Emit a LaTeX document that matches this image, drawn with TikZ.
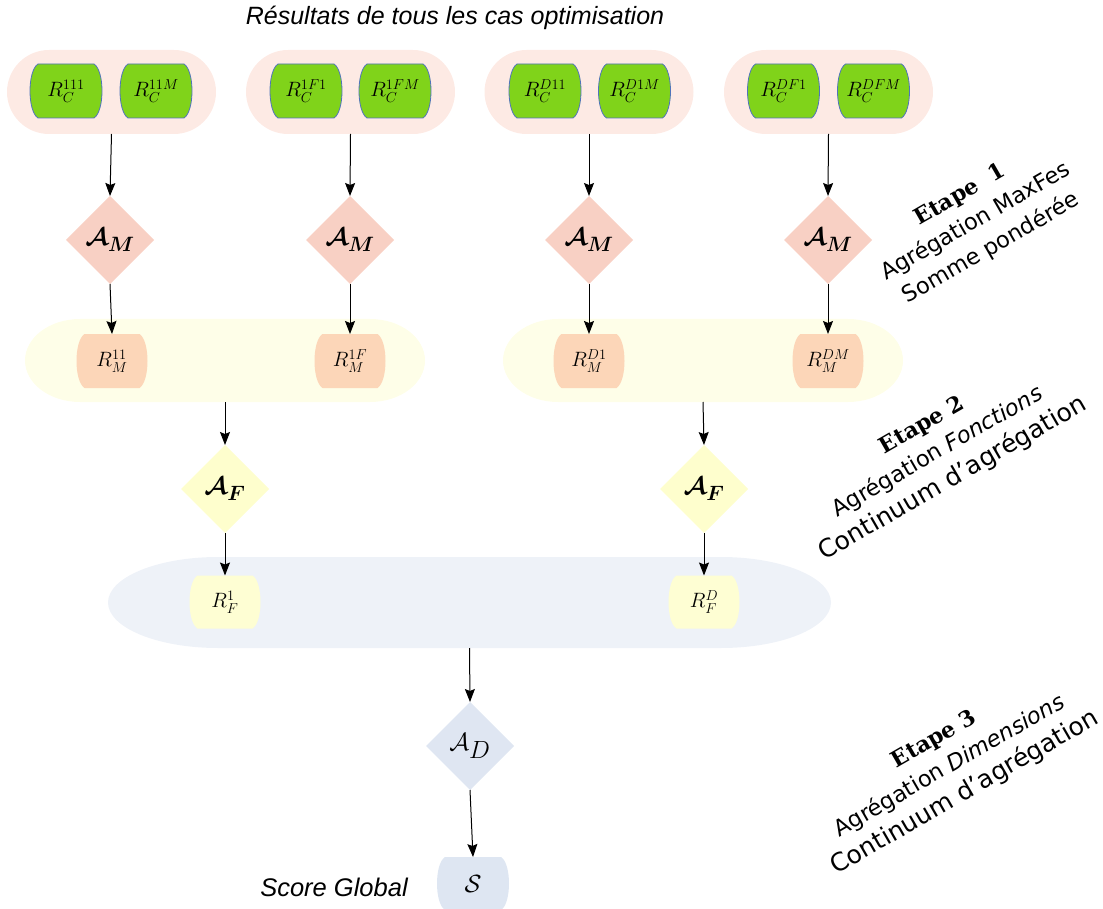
\documentclass[tikz,border=0pt]{standalone}
\usepackage{amsmath}
\usepackage{fontspec}
\setsansfont{Liberation Sans}
\newfontfamily\dejavu{DejaVu Sans}
\newfontfamily\etapefam{DejaVu Serif}
\usetikzlibrary{shapes.geometric,arrows.meta,calc}
\definecolor{pinkpill}{HTML}{FDEAE4}
\definecolor{greenbox}{HTML}{80D31A}
\definecolor{greenline}{HTML}{5074BB}
\definecolor{pinkdia}{HTML}{F8D0C4}
\definecolor{peachbox}{HTML}{FCD6B8}
\definecolor{yellowpill}{HTML}{FEFEE8}
\definecolor{yellowdia}{HTML}{FEFECD}
\definecolor{yellowbox}{HTML}{FEFED3}
\definecolor{bluepill}{HTML}{EEF2F8}
\definecolor{bluedia}{HTML}{DFE6F2}
\definecolor{bluebox}{HTML}{DEE6F2}
\pgfdeclarelayer{back}
\pgfdeclarelayer{mid}
\pgfsetlayers{back,mid,main}
\newcommand{\etapefont}{\etapefam\bfseries\fontsize{22}{30}\selectfont}
% style, node, rx, halfw, halfh
\newcommand{\stadium}[5]{\path[#1,shift={(#2.center)}] ({-#4+#3},-#5) -- ({#4-#3},-#5) arc[start angle=90,end angle=-90,x radius=#3pt,y radius=#5pt] -- ({-#4+#3},#5) arc[start angle=-90,end angle=-270,x radius=#3pt,y radius=#5pt] -- cycle;}
% style, node, halfw, halfh, inset
\newcommand{\barrel}[5]{\path[#1,shift={(#2.center)}] ({-#3+#5},-#4) -- ({#3-#5},-#4) .. controls ({#3+#5/3},{-0.75*#4}) and ({#3+#5/3},{0.75*#4}) .. ({#3-#5},#4) -- ({-#3+#5},#4) .. controls ({-#3-#5/3},{0.75*#4}) and ({-#3-#5/3},{-0.75*#4}) .. ({-#3+#5},-#4) -- cycle;}
\begin{document}
\begin{tikzpicture}[x=1pt,y=-1pt,
  holder/.style={draw=none,inner sep=0pt,outer sep=0pt},
  boxnode/.style={inner sep=0pt,outer sep=0pt,minimum width=71,minimum height=53,font=\fontsize{22}{26}\selectfont},
  dia/.style={shape=diamond,inner sep=0pt,outer sep=0pt,minimum width=88,minimum height=88,font=\fontsize{31}{36}\selectfont},
  arr/.style={draw=black,line width=1pt,-{Stealth[length=13pt,width=10pt,inset=2pt]}},
  steplabel/.style={align=center,font=\dejavu\fontsize{22.5}{31}\selectfont,inner sep=0pt}
]
\useasboundingbox (0,0) rectangle (1103,909);
% holders
\node[holder,minimum width=209,minimum height=84] (p1) at (111.5,92) {};
\node[holder,minimum width=209,minimum height=84] (p2) at (350.5,92) {};
\node[holder,minimum width=209,minimum height=84] (p3) at (589,92) {};
\node[holder,minimum width=209,minimum height=84] (p4) at (828.5,92) {};
\node[holder,minimum width=400,minimum height=83] (y1) at (225,360.5) {};
\node[holder,minimum width=400,minimum height=83] (y2) at (703,360.5) {};
\node[holder,minimum width=723,minimum height=91] (bl) at (469.5,602.5) {};
\begin{pgfonlayer}{back}
\stadium{fill=pinkpill}{p1}{42}{104.5}{42}
\stadium{fill=pinkpill}{p2}{42}{104.5}{42}
\stadium{fill=pinkpill}{p3}{42}{104.5}{42}
\stadium{fill=pinkpill}{p4}{42}{104.5}{42}
\stadium{fill=yellowpill}{y1}{55}{200}{41.5}
\stadium{fill=yellowpill}{y2}{55}{200}{41.5}
\stadium{fill=bluepill}{bl}{110}{361.5}{45.5}
\end{pgfonlayer}
% top boxes
\node[boxnode,minimum height=54] (c1) at (66,91) {$R_C^{111}$};
\node[boxnode,minimum height=54] (c2) at (156,91) {$R_C^{11M}$};
\node[boxnode,minimum height=54] (c3) at (306,91) {$R_C^{1F1}$};
\node[boxnode,minimum height=54] (c4) at (395,91) {$R_C^{1FM}$};
\node[boxnode,minimum height=54] (c5) at (545,91) {$R_C^{D11}$};
\node[boxnode,minimum height=54] (c6) at (634.5,91) {$R_C^{D1M}$};
\node[boxnode,minimum height=54] (c7) at (783.5,91) {$R_C^{DF1}$};
\node[boxnode,minimum height=54] (c8) at (873.5,91) {$R_C^{DFM}$};
% second row boxes
\node[boxnode,minimum height=54] (m1) at (112,361) {$R_M^{11}$};
\node[boxnode,minimum height=54] (m2) at (350,361) {$R_M^{1F}$};
\node[boxnode,minimum height=54] (m3) at (589,361) {$R_M^{D1}$};
\node[boxnode,minimum height=54] (m4) at (828,361) {$R_M^{DM}$};
% third row
\node[boxnode,font=\fontsize{20}{24}\selectfont] (f1) at (225,602) {$R_F^{1}$};
\node[boxnode,font=\fontsize{20}{24}\selectfont] (f2) at (704,602) {$R_F^{D}$};
% score
\node[boxnode,font=\fontsize{25}{29}\selectfont] (s) at (473,883.5) {$\mathcal{S}$};
\begin{pgfonlayer}{mid}
\foreach \n in {c1,c2,c3,c4,c5,c6,c7,c8}{\barrel{fill=greenbox,draw=greenline,line width=0.8pt}{\n}{36}{27}{8}}
\foreach \n in {m1,m2,m3,m4}{\barrel{fill=peachbox}{\n}{35.5}{27}{8}}
\foreach \n in {f1,f2}{\barrel{fill=yellowbox}{\n}{35.5}{26.5}{8}}
\barrel{fill=bluebox}{s}{36}{26.5}{8}
\end{pgfonlayer}
% diamonds
\node[dia,fill=pinkdia] (am1) at (110,240) {$\boldsymbol{\mathcal{A}_M}$};
\node[dia,fill=pinkdia] (am2) at (350,240) {$\boldsymbol{\mathcal{A}_M}$};
\node[dia,fill=pinkdia] (am3) at (589,240) {$\boldsymbol{\mathcal{A}_M}$};
\node[dia,fill=pinkdia] (am4) at (828,240) {$\boldsymbol{\mathcal{A}_M}$};
\node[dia,fill=yellowdia] (af1) at (225,489) {$\boldsymbol{\mathcal{A}_F}$};
\node[dia,fill=yellowdia] (af2) at (704,489) {$\boldsymbol{\mathcal{A}_F}$};
\node[dia,fill=bluedia,font=\fontsize{33}{38}\selectfont] (ad) at (470,746) {$\mathcal{A}_D$};
% arrows
\draw[arr] (p1.south) -- (am1.north);
\draw[arr] (p2.south) -- (am2.north);
\draw[arr] (p3.south) -- (am3.north);
\draw[arr] (p4.south) -- (am4.north);
\draw[arr] (am1.south) -- (m1.north);
\draw[arr] (am2.south) -- (m2.north);
\draw[arr] (am3.south) -- (m3.north);
\draw[arr] (am4.south) -- (m4.north);
\draw[arr] (y1.south) -- (af1.north);
\draw[arr] (y2.south) -- (af2.north);
\draw[arr] (af1.south) -- (f1.north);
\draw[arr] (af2.south) -- (f2.north);
\draw[arr] (bl.south) -- (ad.north);
\draw[arr] (ad.south) -- (s.north);
% texts
\node[font=\sffamily\itshape\fontsize{25}{30}\selectfont] (title) at (455,18) {Résultats de tous les cas optimisation};
\node[font=\sffamily\itshape\fontsize{25.5}{30}\selectfont] (sg) at (334,887) {Score Global};
\node[steplabel,rotate=30] (e1) at (976,222) {{\etapefont Etape\ \ 1}\\Agrégation MaxFes\\Somme pondérée};
\node[steplabel,rotate=30] (e2) at (938,453) {{\etapefont Etape 2}\\Agrégation \textit{Fonctions}\\{\fontsize{25}{31}\selectfont Continuum d’agrégation}};
\node[steplabel,rotate=30] (e3) at (950,767) {{\etapefont Etape 3}\\Agrégation \textit{Dimensions}\\{\fontsize{25}{31}\selectfont Continuum d’agrégation}};
\end{tikzpicture}
\end{document}
